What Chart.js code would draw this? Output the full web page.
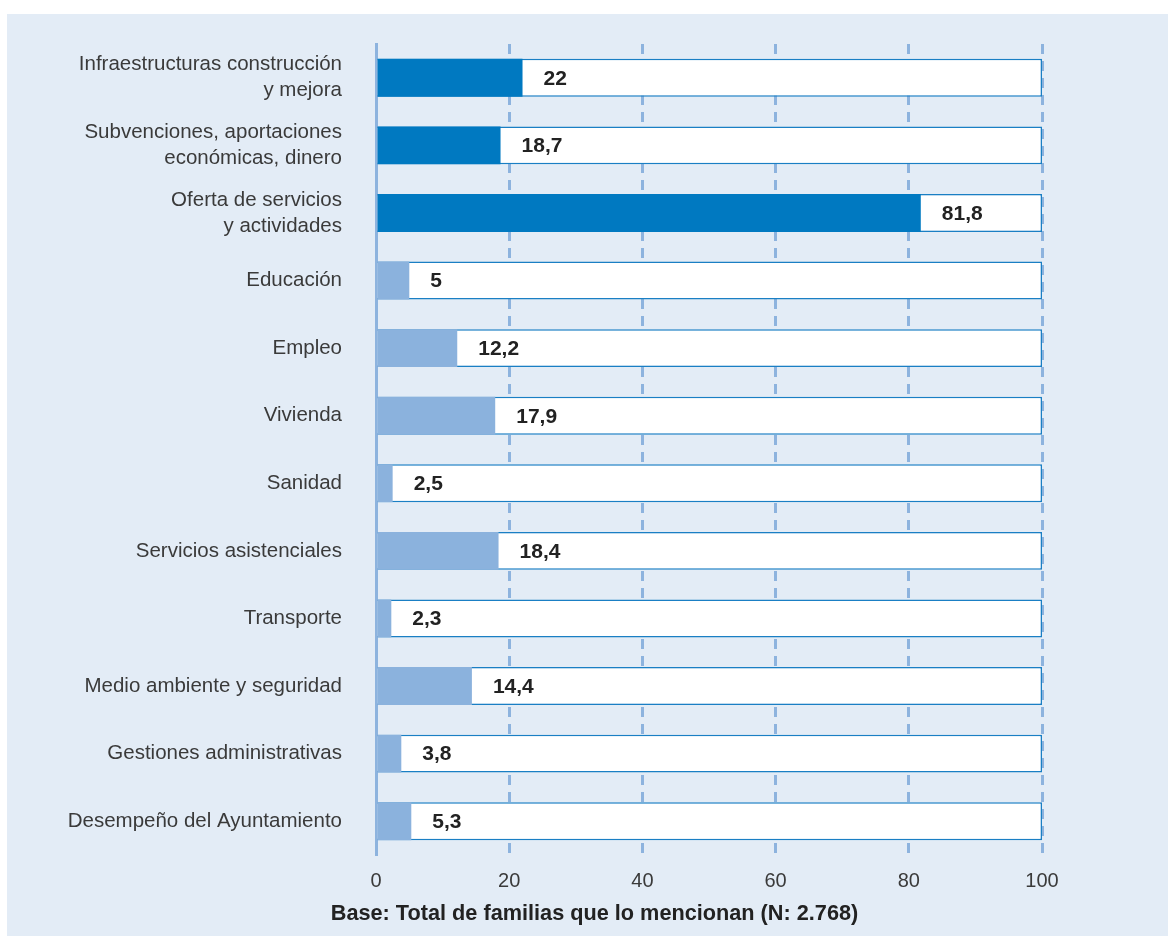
<!DOCTYPE html>
<html>
<head>
<meta charset="utf-8">
<script src="https://cdn.jsdelivr.net/npm/chart.js@4/dist/chart.umd.min.js"></script>
<style>
    body { margin: 0; background: #ffffff; }
    #chart_div {
        position: absolute;
        left: 7px;
        top: 14px;
        width: 1161px;
        height: 922px;
        background: #e3ecf6;
    }
</style>
</head>
<body>
<div id="chart_div"><canvas id="bar_chart1"></canvas></div>
<script>
// Categories (two-line labels kept as arrays)
var categories = [
    ["Infraestructuras construcción", "y mejora"],
    ["Subvenciones, aportaciones", "económicas, dinero"],
    ["Oferta de servicios", "y actividades"],
    "Educación",
    "Empleo",
    "Vivienda",
    "Sanidad",
    "Servicios asistenciales",
    "Transporte",
    "Medio ambiente y seguridad",
    "Gestiones administrativas",
    "Desempeño del Ayuntamiento"
];
var values = [22, 18.7, 81.8, 5, 12.2, 17.9, 2.5, 18.4, 2.3, 14.4, 3.8, 5.3];
var track = [100, 100, 100, 100, 100, 100, 100, 100, 100, 100, 100, 100];
var groups = ["dark", "dark", "dark", "light", "light", "light", "light", "light", "light", "light", "light", "light"];
var xTicks = [0, 20, 40, 60, 80, 100];
var axisTitle = "Base: Total de familias que lo mencionan (N: 2.768)";

var colors = { dark: "#0079c1", light: "#8bb2dd" };
var fontFamily = "'Liberation Sans', Arial, sans-serif";

// Value labels in the white part of each bar + the "Base" line under the axis
var valueLabels = {
    id: "valueLabels",
    afterDatasetsDraw: function (chart) {
        var ctx = chart.ctx;
        var meta = chart.getDatasetMeta(1);
        ctx.save();
        ctx.font = "bold 21px " + fontFamily;
        ctx.fillStyle = "#222222";
        ctx.textAlign = "left";
        ctx.textBaseline = "middle";
        meta.data.forEach(function (bar, i) {
            ctx.fillText(String(values[i]).replace(".", ","), bar.x + 21, bar.y + 1);
        });

        // base note, centred on the panel (slightly right of the middle)
        ctx.font = "bold 21.7px " + fontFamily;
        ctx.textAlign = "center";
        ctx.fillText(axisTitle, chart.width / 2 + 7, chart.height - 22);
        ctx.restore();
    }
};

const chart = document.getElementById("bar_chart1");
new Chart(chart, {
    type: "bar",
    data: {
        labels: categories,
        datasets: [
            {
                label: "Total",
                data: track,
                backgroundColor: "#ffffff",
                borderColor: "#1a7fc4",
                borderWidth: 1.5,
                borderSkipped: "left",
                grouped: false,
                order: 2,
                categoryPercentage: 1,
                barPercentage: 0.56
            },
            {
                label: "Familias",
                data: values,
                backgroundColor: groups.map(g => colors[g]),
                borderWidth: 0,
                grouped: false,
                order: 1,
                categoryPercentage: 1,
                barPercentage: 0.56
            }
        ]
    },
    options: {
        indexAxis: "y",
        responsive: true,
        maintainAspectRatio: false,
        animation: false,
        layout: { padding: { top: 30, right: 126, left: 0, bottom: 45 } },
        plugins: {
            legend: { display: false },
            tooltip: { enabled: false },
            title: { display: false }
        },
        scales: {
            x: {
                min: 0,
                max: 100,
                afterBuildTicks: function (axis) {
                    axis.ticks = xTicks.map(v => ({ value: v }));
                },
                afterFit: function (axis) {
                    axis.height = 36;
                    axis.paddingLeft = 0;
                    axis.paddingRight = 0;
                },
                grid: {
                    color: "#8db3de",
                    lineWidth: 3,
                    drawTicks: false
                },
                border: { display: false, dash: [10, 7] },
                ticks: {
                    color: "#3a3a3a",
                    padding: 14,
                    font: { family: fontFamily, size: 20 }
                }
            },
            y: {
                afterFit: function (axis) {
                    axis.width = 369;
                    axis.paddingTop = 0;
                    axis.paddingBottom = 0;
                },
                grid: { display: false },
                border: { display: true, color: "#8db3de", width: 3 },
                ticks: {
                    color: "#3a3a3a",
                    padding: 26,
                    font: { family: fontFamily, size: 20.5, lineHeight: 1.27 }
                }
            }
        }
    },
    plugins: [valueLabels]
});
</script>
</body>
</html>
